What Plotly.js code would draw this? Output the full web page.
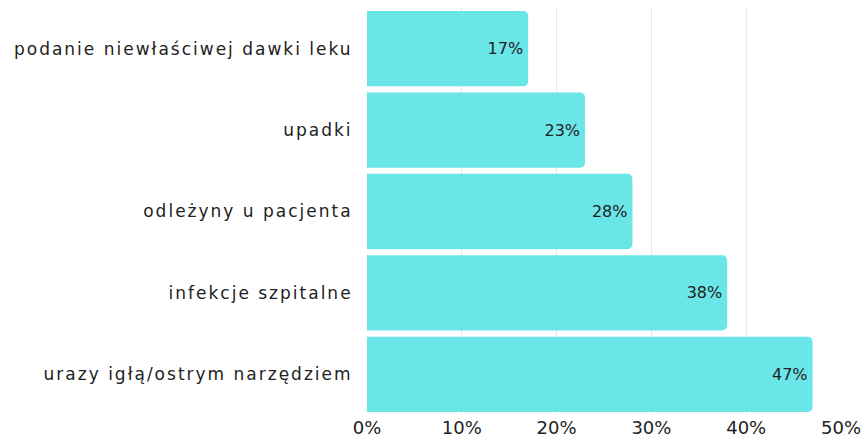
<!DOCTYPE html>
<html>
<head>
<meta charset="utf-8">
<script src="https://cdn.plot.ly/plotly-3.0.1.min.js"></script>
<style>
html,body{margin:0;padding:0;background:#fff;}
#chart{width:861px;height:439px;}
#chart .ytick text{letter-spacing:2px;}
</style>
</head>
<body>
<div id="chart"></div>
<script>
const categories = [
  "podanie niewłaściwej dawki leku",
  "upadki",
  "odleżyny u pacjenta",
  "infekcje szpitalne",
  "urazy igłą/ostrym narzędziem"
];
const values = [17, 23, 28, 38, 47];
const labels = values.map(v => v + "%");
const tickVals = [0, 10, 20, 30, 40, 50];
const tickText = tickVals.map(v => v + "%");

const trace = {
  type: "bar",
  orientation: "h",
  y: categories,
  x: values,
  text: labels,
  textposition: "inside",
  insidetextanchor: "end",
  textfont: {family: "DejaVu Sans, sans-serif", size: 16, color: "#222"},
  marker: {color: "#6ae5e8"},
  hoverinfo: "none",
  cliponaxis: false
};

const layout = {
  width: 861, height: 439,
  margin: {l: 367, r: 20, t: 8, b: 24},
  paper_bgcolor: "#fff", plot_bgcolor: "#fff",
  bargap: 0.075,
  barcornerradius: 5,
  showlegend: false,
  font: {family: "DejaVu Sans, sans-serif", color: "#222"},
  xaxis: {
    range: [0, 50], tickvals: tickVals, ticktext: tickText,
    showgrid: true, gridcolor: "#e8e8e8", gridwidth: 1,
    zeroline: false, showline: false, ticks: "",
    ticklabeloverflow: "allow",
    tickfont: {size: 18, color: "#222"}, fixedrange: true
  },
  yaxis: {
    autorange: "reversed", showgrid: false, zeroline: false, showline: false,
    ticks: "outside", ticklen: 10, tickcolor: "rgba(0,0,0,0)",
    tickfont: {size: 17, color: "#222"}, fixedrange: true
  }
};

Plotly.newPlot("chart", [trace], layout, {displayModeBar: false, staticPlot: true});
</script>
</body>
</html>
